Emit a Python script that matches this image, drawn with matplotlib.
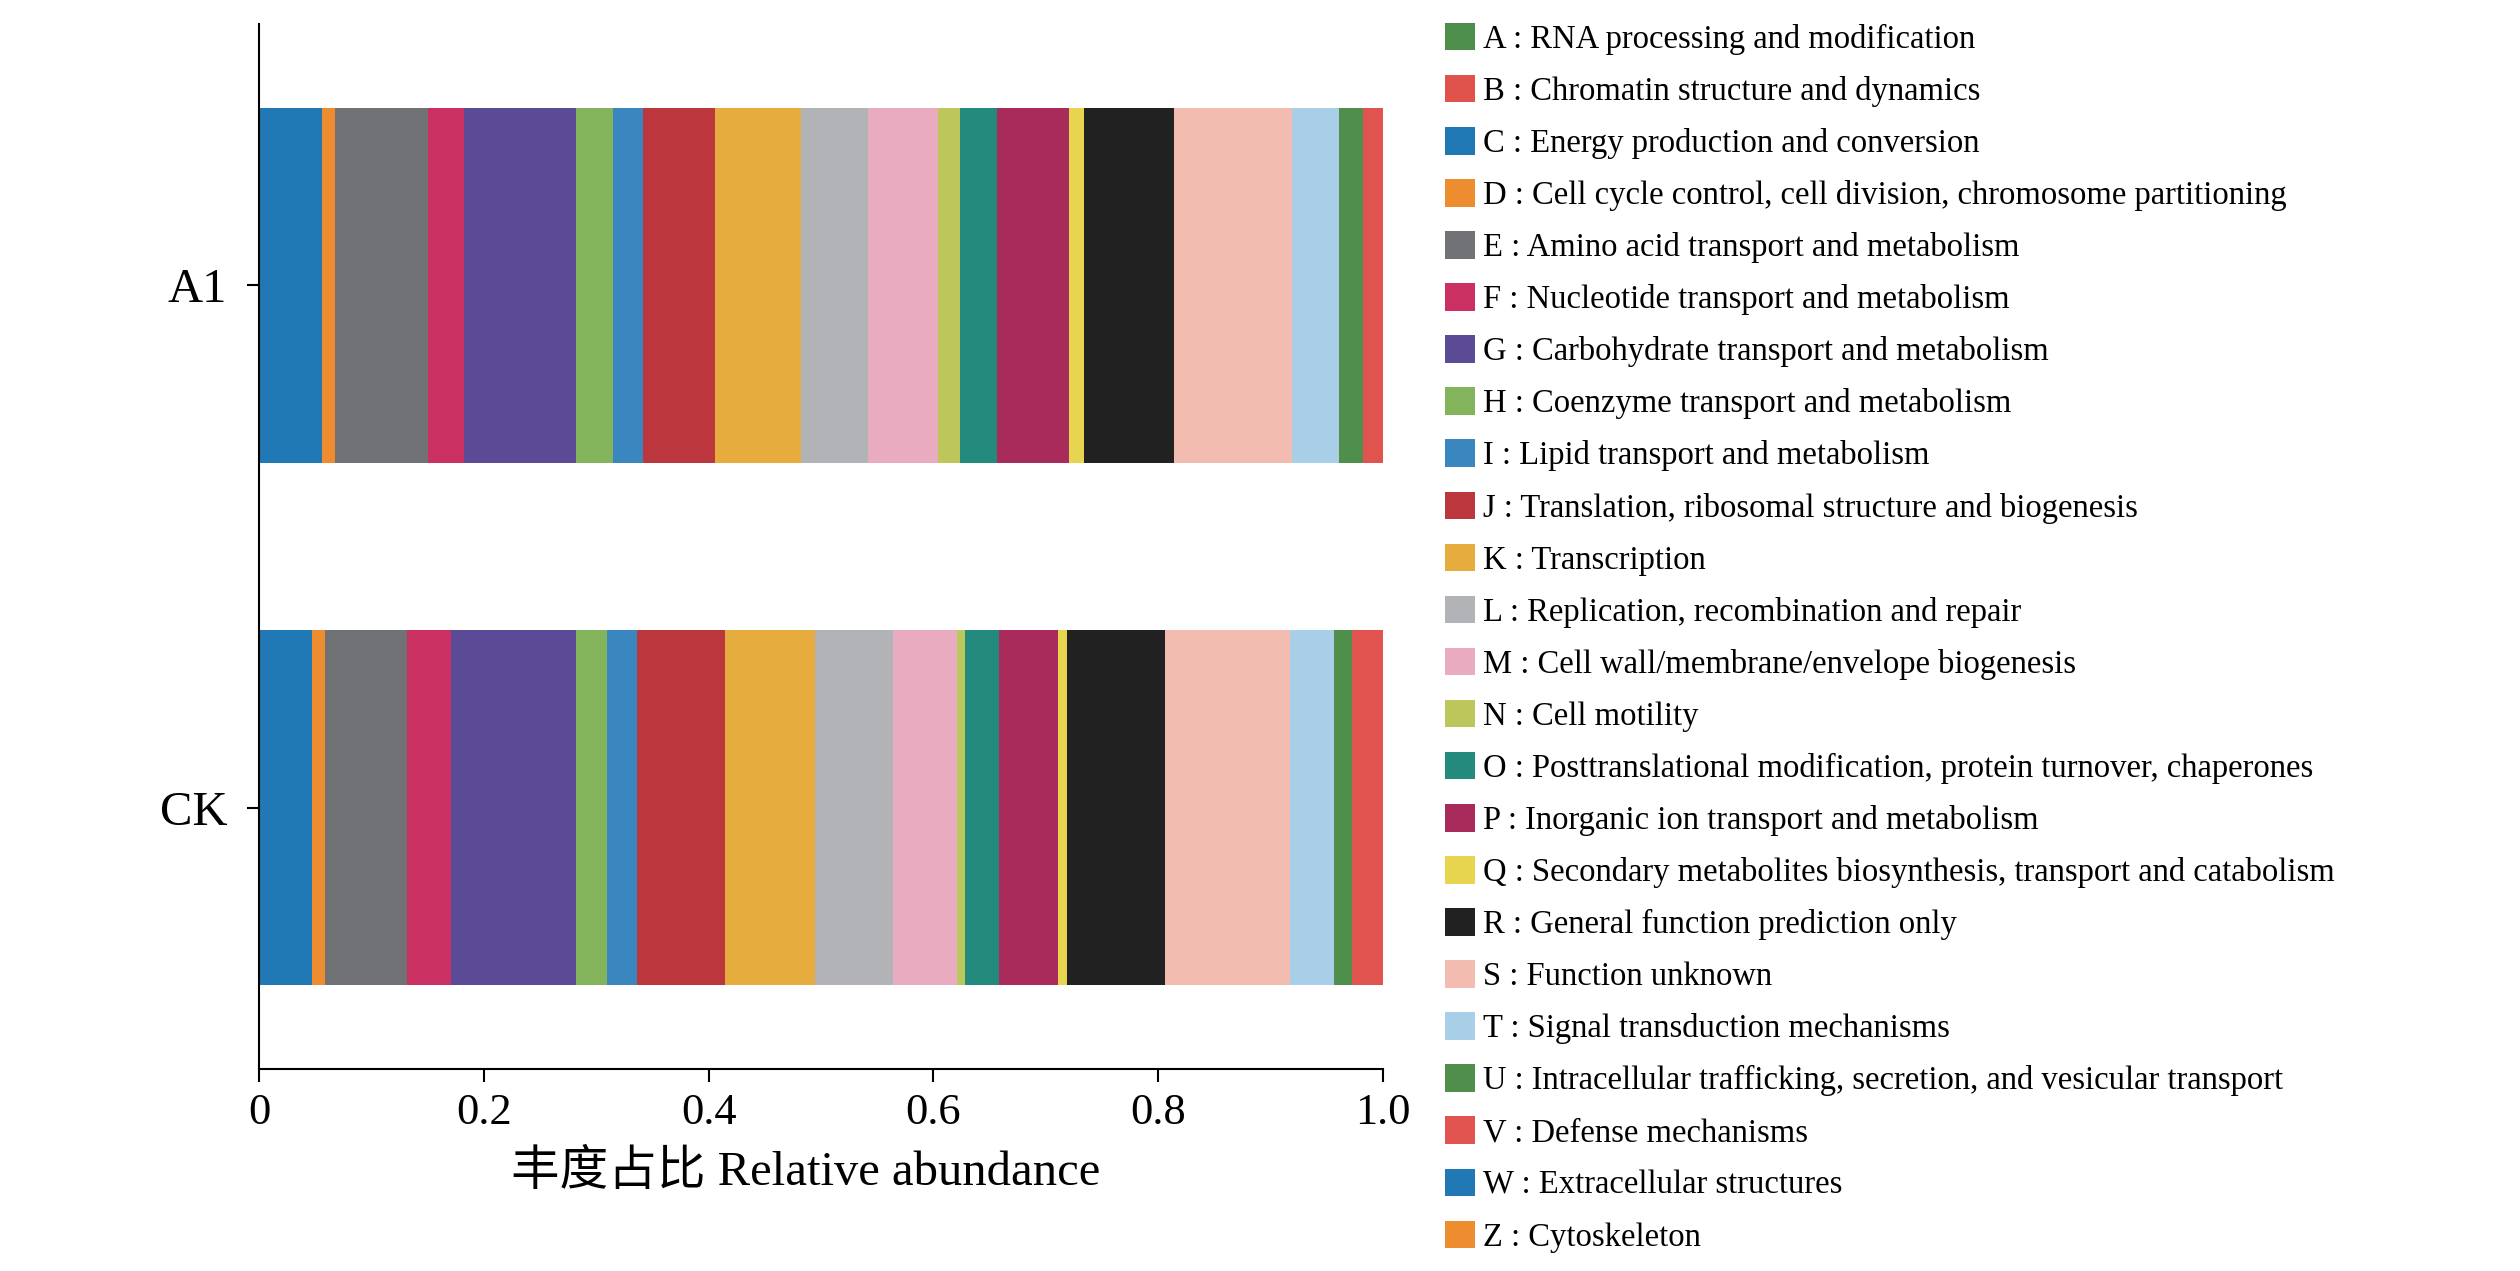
import matplotlib
matplotlib.use("Agg")
import matplotlib.pyplot as plt
from matplotlib.patches import Patch

plt.rcParams['font.family'] = ['Liberation Serif', 'Noto Sans CJK SC']

# COG categories, stacked left to right in this order
codigos = ['C', 'D', 'E', 'F', 'G', 'H', 'I', 'J', 'K', 'L', 'M', 'N',
           'O', 'P', 'Q', 'R', 'S', 'T', 'U', 'V', 'A', 'B', 'W', 'Z']

muestras = ['CK', 'A1']

# relative abundance (A, B, W, Z not visible)
a1 = [0.056, 0.012, 0.082, 0.032, 0.100, 0.033, 0.027, 0.064, 0.076, 0.060,
      0.062, 0.020, 0.033, 0.064, 0.013, 0.080, 0.105, 0.042, 0.021, 0.018,
      0.0, 0.0, 0.0, 0.0]
ck = [0.047, 0.012, 0.073, 0.039, 0.111, 0.028, 0.026, 0.079, 0.080, 0.069,
      0.057, 0.007, 0.030, 0.053, 0.008, 0.087, 0.111, 0.039, 0.016, 0.028,
      0.0, 0.0, 0.0, 0.0]

# legend order and text
leyenda_codigos = ['A', 'B', 'C', 'D', 'E', 'F', 'G', 'H', 'I', 'J', 'K', 'L',
                   'M', 'N', 'O', 'P', 'Q', 'R', 'S', 'T', 'U', 'V', 'W', 'Z']
leyenda_textos = [
    'RNA processing and modification',
    'Chromatin structure and dynamics',
    'Energy production and conversion',
    'Cell cycle control, cell division, chromosome partitioning',
    'Amino acid transport and metabolism',
    'Nucleotide transport and metabolism',
    'Carbohydrate transport and metabolism',
    'Coenzyme transport and metabolism',
    'Lipid transport and metabolism',
    'Translation, ribosomal structure and biogenesis',
    'Transcription',
    'Replication, recombination and repair',
    'Cell wall/membrane/envelope biogenesis',
    'Cell motility',
    'Posttranslational modification, protein turnover, chaperones',
    'Inorganic ion transport and metabolism',
    'Secondary metabolites biosynthesis, transport and catabolism',
    'General function prediction only',
    'Function unknown',
    'Signal transduction mechanisms',
    'Intracellular trafficking, secretion, and vesicular transport',
    'Defense mechanisms',
    'Extracellular structures',
    'Cytoskeleton',
]

colores = {
    'A': '#4d8e4b', 'B': '#e0524c', 'C': '#2079b5', 'D': '#ee8c30',
    'E': '#717275', 'F': '#cb3063', 'G': '#5b4a96', 'H': '#83b35a',
    'I': '#3a87bf', 'J': '#bc363d', 'K': '#e6ac3d', 'L': '#b2b3b6',
    'M': '#e8abc0', 'N': '#bcc65a', 'O': '#248a7d', 'P': '#a92b5c',
    'Q': '#e7d44f', 'R': '#212121', 'S': '#f2bcb1', 'T': '#a9cee7',
    'U': '#4f8f4b', 'V': '#e0534e', 'W': '#2079b5', 'Z': '#ee8c30',
}

fig = plt.figure(figsize=(25.2, 12.71), dpi=100)
ax = fig.add_axes([0.1028, 0.159, 0.446, 0.822])

valores = {'CK': ck, 'A1': a1}
for i, m in enumerate(muestras):
    izquierda = 0.0
    for c, v in zip(codigos, valores[m]):
        if v > 0:
            ax.barh(i, v, left=izquierda, height=0.68, color=colores[c],
                    linewidth=0)
        izquierda += v

ax.set_xlim(0, 1.0)
ax.set_ylim(-0.5, 1.5)
ax.set_yticks(range(len(muestras)))
ax.set_yticklabels(muestras, fontsize=35)
ax.set_xticks([0, 0.2, 0.4, 0.6, 0.8, 1.0])
ax.set_xticklabels(['0', '0.2', '0.4', '0.6', '0.8', '1.0'], fontsize=32)
ax.tick_params(axis='both', direction='out', length=9, width=1.5)
ax.tick_params(axis='x', pad=8)
ax.tick_params(axis='y', pad=14)
for lado in ['top', 'right']:
    ax.spines[lado].set_visible(False)
for lado in ['left', 'bottom']:
    ax.spines[lado].set_linewidth(1.5)
ax.set_xlabel('丰度占比 Relative abundance', fontsize=35)
ax.xaxis.set_label_coords(0.486, -0.078)

handles = [Patch(facecolor=colores[c], edgecolor='none') for c in leyenda_codigos]
labels = [f'{c} : {t}' for c, t in zip(leyenda_codigos, leyenda_textos)]
fig.legend(handles, labels, loc='upper left', bbox_to_anchor=(0.5734, 0.982),
           frameon=False, fontsize=23.5, handlelength=0.92, handleheight=0.92,
           handletextpad=0.25, labelspacing=0.615, borderpad=0, borderaxespad=0)

plt.savefig('out.png', dpi=100)
